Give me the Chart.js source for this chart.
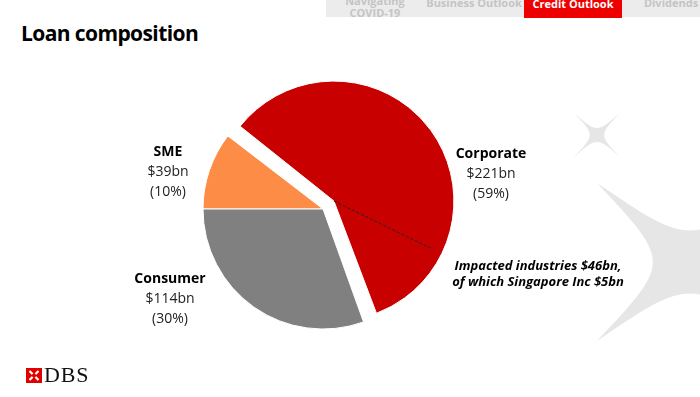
<!DOCTYPE html>
<html>
<head>
<meta charset="utf-8">
<script src="https://cdn.jsdelivr.net/npm/chart.js@4.4.1/dist/chart.umd.min.js"></script>
<style>
  html, body { margin: 0; padding: 0; background: #fff; }
  #stage { position: relative; width: 700px; height: 397px; overflow: hidden; font-family: "Open Sans", "Noto Sans", sans-serif; }
  #bg { position: absolute; left: 0; top: 0; }
  #chartBox { position: absolute; left: 0; top: 0; width: 700px; height: 397px; }
  .title { position: absolute; left: 21px; top: 20px; font-size: 21px; font-weight: 700; color: #000; line-height: 26px; letter-spacing: -0.6px; white-space: nowrap; }
  .tabbar { position: absolute; left: 326px; top: 0; width: 374px; height: 17px; background: #ececec; }
  .tab { position: absolute; top: 0; height: 17px; font-size: 11px; font-weight: 700; color: #c4c4c4; text-align: center; white-space: nowrap; }
  .tab.active { background: #ee0000; color: #fff; height: 18px; }
  .lbl { position: absolute; transform: translateX(-50%); text-align: center; font-size: 14px; line-height: 20px; color: #222; white-space: nowrap; }
  .lbl b { color: #000; }
  .note { position: absolute; transform: translateX(-50%); text-align: center; font-size: 13px; line-height: 16px; font-weight: 700; font-style: italic; color: #000; white-space: nowrap; letter-spacing: 0px; }
  .logo { position: absolute; left: 44px; top: 364px; font-family: "Liberation Serif", "DejaVu Serif", serif; font-size: 22px; color: #111; line-height: 22px; letter-spacing: 0.8px; }
</style>
</head>
<body>
<div id="stage">
  <svg id="bg" width="700" height="397">
    <path id="starSmall" fill="#e6e6e6"></path>
    <path id="starBig" fill="#e6e6e6"></path>
    <g transform="translate(26,368)">
      <rect x="0" y="0" width="16" height="15" fill="#e00000"></rect>
      <path d="M3.5 3 L12.5 12 M12.5 3 L3.5 12" stroke="#fff" stroke-width="2.2"></path>
      <rect x="6" y="5.5" width="4" height="4" fill="#e00000" transform="rotate(45 8 7.5)"></rect>
    </g>
  </svg>
  <div class="tabbar"></div>
  <div class="tab" style="left:326px;width:98px;top:-5px;line-height:12px;height:auto;">Navigating<br>COVID-19</div>
  <div class="tab" style="left:426px;width:96px;line-height:8px;top:-1px;">Business Outlook</div>
  <div class="tab active" style="left:524px;width:98px;line-height:9px;top:0;"><span style="position:relative;top:-1px">Credit Outlook</span></div>
  <div class="tab" style="left:626px;width:90px;line-height:8px;top:-1px;">Dividends</div>
  <div class="title">Loan composition</div>
  <div id="chartBox"><canvas id="c" width="700" height="397"></canvas></div>
  <div class="logo">DBS</div>
  <div id="labels"></div>
</div>
<script>
// ---- data ----
const categories = ['Corporate', 'Consumer', 'SME'];
const amounts = [221, 114, 39];          // $bn
const shares = [59, 30, 10];             // %
const impactedLabel = 'Impacted industries';
const impactedAmount = 46;               // $bn, part of Corporate
const singaporeIncAmount = 5;            // $bn
const colors = ['#c80000', '#808080', '#fd8c46'];

// drawing order (clockwise from 9 o'clock): SME, Corporate, Consumer
const order = [2, 0, 1];
const explodedCategory = 'Corporate';

// background decorative stars
function star(cx, cy, ax, ay, s) {
  const tips = [[cx - ax, cy - ay], [cx + ax, cy - ay], [cx + ax, cy + ay], [cx - ax, cy + ay]];
  let d = 'M' + tips[0][0] + ' ' + tips[0][1];
  for (let i = 0; i < 4; i++) {
    const a = tips[i], b = tips[(i + 1) % 4];
    const mx = (a[0] + b[0]) / 2, my = (a[1] + b[1]) / 2;
    const px = cx + s * (mx - cx), py = cy + s * (my - cy);
    d += ' C' + px + ' ' + py + ' ' + px + ' ' + py + ' ' + b[0] + ' ' + b[1];
  }
  return d + 'Z';
}
document.getElementById('starSmall').setAttribute('d', star(597, 135, 24, 23, 0.07));
document.getElementById('starBig').setAttribute('d', star(690, 262, 93, 79, 0.2));

// labels
const labelPos = {
  Corporate: [491, 143],
  Consumer: [170, 268],
  SME: [168, 141]
};
const labelsDiv = document.getElementById('labels');
categories.forEach((c, i) => {
  const d = document.createElement('div');
  d.className = 'lbl';
  d.style.left = labelPos[c][0] + 'px';
  d.style.top = labelPos[c][1] + 'px';
  d.innerHTML = '<b>' + c + '</b><br>$' + amounts[i] + 'bn<br>(' + shares[i] + '%)';
  labelsDiv.appendChild(d);
});
const note = document.createElement('div');
note.className = 'note';
note.style.left = '538px';
note.style.top = '257px';
note.innerHTML = impactedLabel + ' $' + impactedAmount + 'bn,<br>of which Singapore Inc $' + singaporeIncAmount + 'bn';
labelsDiv.appendChild(note);

// plugin: keep exploded slice at the same radius and draw the dashed split
const explodePlugin = {
  id: 'explode',
  afterUpdate(chart) {
    const meta = chart.getDatasetMeta(0);
    meta.data.forEach(arc => {
      const off = (arc.options.offset || 0) / 4;
      const circ = arc.endAngle - arc.startAngle;
      const fix = 1 - Math.sin(Math.min(Math.PI, circ));
      arc.outerRadius = arc.outerRadius - off * fix;
    });
  },
  afterDatasetsDraw(chart) {
    const meta = chart.getDatasetMeta(0);
    const idx = order.indexOf(categories.indexOf(explodedCategory));
    const arc = meta.data[idx];
    const half = (arc.startAngle + arc.endAngle) / 2;
    const t = (arc.options.offset || 0) / 4;
    const cx = arc.x + Math.cos(half) * t;
    const cy = arc.y + Math.sin(half) * t;
    const total = amounts[categories.indexOf(explodedCategory)];
    const a = arc.endAngle - (impactedAmount / total) * (arc.endAngle - arc.startAngle);
    const r = arc.outerRadius + 1;
    const ctx = chart.ctx;
    ctx.save();
    ctx.strokeStyle = '#222';
    ctx.lineWidth = 1;
    ctx.setLineDash([3, 2]);
    ctx.beginPath();
    ctx.moveTo(cx, cy);
    ctx.lineTo(cx + Math.cos(a) * r, cy + Math.sin(a) * r);
    ctx.stroke();
    ctx.restore();
  }
};

new Chart(document.getElementById('c'), {
  type: 'pie',
  data: {
    labels: order.map(i => categories[i]),
    datasets: [{
      data: order.map(i => amounts[i]),
      backgroundColor: order.map(i => colors[i]),
      borderColor: '#ffffff',
      borderWidth: 1,
      offset: order.map(i => categories[i] === explodedCategory ? 54 : 0)
    }]
  },
  options: {
    responsive: false,
    animation: false,
    events: [],
    rotation: 270,
    radius: 120,
    layout: { padding: { left: 0, right: 54, top: 21, bottom: 0 } },
    plugins: { legend: { display: false }, tooltip: { enabled: false } }
  },
  plugins: [explodePlugin]
});
</script>
</body>
</html>
